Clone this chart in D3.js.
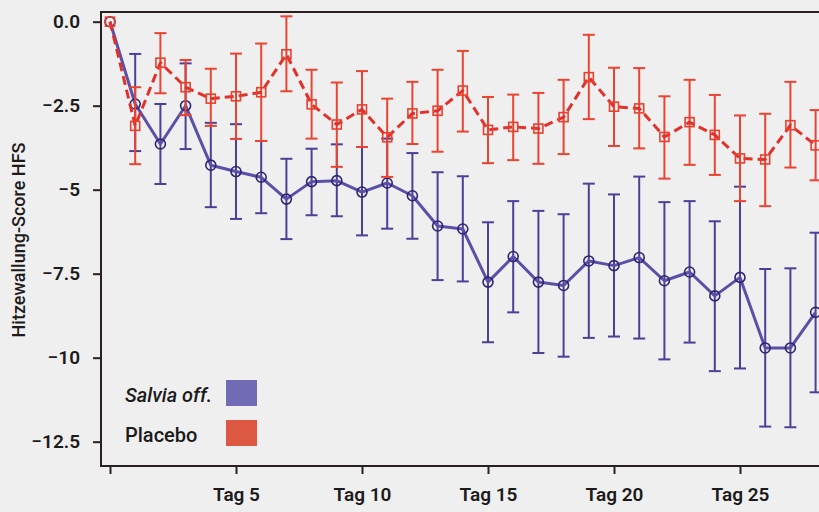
<!DOCTYPE html>
<html>
<head>
<meta charset="utf-8">
<script src="https://cdn.jsdelivr.net/npm/d3@7"></script>
<style>
  body { margin: 0; background: #efefef; }
  svg { display: block; font-family: Roboto, "Noto Sans", sans-serif; }
</style>
</head>
<body>
<svg id="chart" width="819" height="512"></svg>
<script>
// values (day 0..28)
var days = d3.range(0, 29);

var salviaMean  = [0, -2.45, -3.64, -2.5, -4.27, -4.46, -4.63, -5.28, -4.76, -4.73, -5.07, -4.80, -5.18, -6.08, -6.17, -7.75, -6.99, -7.75, -7.85, -7.12, -7.26, -7.02, -7.71, -7.45, -8.16, -7.61, -9.71, -9.71, -8.65];
var salviaUpper = [null, -0.96, -2.45, -1.24, -3.01, -3.05, -3.55, -4.08, -3.78, -3.65, -3.73, -3.48, -3.91, -4.48, -4.60, -5.97, -5.34, -5.63, -5.73, -4.82, -5.14, -4.61, -5.37, -5.34, -5.94, -4.91, -7.36, -7.34, -6.28];
var salviaLower = [null, -3.85, -4.83, -3.79, -5.52, -5.87, -5.70, -6.47, -5.76, -5.79, -6.36, -6.16, -6.46, -7.69, -7.73, -9.54, -8.65, -9.86, -9.97, -9.41, -9.37, -9.43, -10.05, -9.55, -10.40, -10.32, -12.05, -12.07, -11.03];

var placeboMean  = [0, -3.1, -1.22, -1.95, -2.29, -2.22, -2.1, -0.97, -2.46, -3.06, -2.61, -3.44, -2.73, -2.65, -2.05, -3.22, -3.13, -3.18, -2.84, -1.65, -2.53, -2.58, -3.43, -2.99, -3.37, -4.07, -4.10, -3.08, -3.68];
var placeboUpper = [null, -1.95, -0.34, -1.14, -1.4, -0.95, -0.65, 0.16, -1.43, -1.81, -1.47, -2.29, -1.79, -1.43, -0.87, -2.24, -2.17, -2.12, -1.73, -0.39, -1.37, -1.38, -2.22, -1.73, -2.18, -2.79, -2.74, -1.79, -2.63];
var placeboLower = [null, -4.24, -2.13, -2.78, -3.1, -3.49, -3.55, -2.07, -3.48, -4.32, -3.73, -4.62, -3.64, -3.87, -3.27, -4.21, -4.12, -4.23, -3.94, -2.9, -3.70, -3.77, -4.67, -4.26, -4.56, -5.34, -5.49, -4.34, -4.72];

var xTicks = [5, 10, 15, 20, 25];
var xTickLabels = ["Tag 5", "Tag 10", "Tag 15", "Tag 20", "Tag 25"];
var yTicks = [0, -2.5, -5, -7.5, -10, -12.5];
var yTickLabels = ["0.0", "\u22122.5", "\u22125", "\u22127.5", "\u221210", "\u221212.5"];

var legendNames = ["Salvia off.", "Placebo"];

var svg = d3.select("#chart");
var ink = "#1c1a1b";

var x = d3.scaleLinear().domain([0, 28]).range([110, 815.6]);
var y = d3.scaleLinear().domain([0, -12.5]).range([21.7, 441.7]);

var plotLeft = 101, plotTop = 12, plotBottom = 466;

// frame (right side runs off the picture)
svg.append("path")
    .attr("d", "M830," + plotTop + "H" + plotLeft + "V" + plotBottom + "H830")
    .attr("fill", "none")
    .attr("stroke", "#2a2020")
    .attr("stroke-width", 2);

// y axis
var yAxis = svg.append("g")
    .attr("transform", "translate(" + plotLeft + ",0)")
    .call(d3.axisLeft(y).tickValues(yTicks).tickSize(8).tickPadding(13)
        .tickFormat(function(d, i) { return yTickLabels[i]; }));
yAxis.select(".domain").remove();
yAxis.selectAll(".tick line").attr("stroke", "#2a2020").attr("stroke-width", 2);
yAxis.selectAll(".tick text")
    .attr("fill", ink)
    .attr("font-size", 19)
    .attr("font-weight", 600)
    .attr("font-family", "Roboto, sans-serif");

// x axis
var xAxis = svg.append("g")
    .attr("transform", "translate(0," + plotBottom + ")")
    .call(d3.axisBottom(x).tickValues([0].concat(xTicks)).tickSize(8).tickPadding(14)
        .tickFormat(function(d) { var i = xTicks.indexOf(d); return i < 0 ? "" : xTickLabels[i]; }));
xAxis.select(".domain").remove();
xAxis.selectAll(".tick line").attr("stroke", "#2a2020").attr("stroke-width", 2);
xAxis.selectAll(".tick text")
    .attr("fill", ink)
    .attr("font-size", 19)
    .attr("font-weight", 600)
    .attr("font-family", "Roboto, sans-serif");

// y title
svg.append("text")
    .attr("transform", "translate(25,240) rotate(-90)")
    .attr("text-anchor", "middle")
    .attr("fill", ink)
    .attr("font-size", 18)
    .attr("font-weight", 500)
    .text("Hitzewallung-Score HFS");

function drawSeries(mean, upper, lower, opts) {
    var g = svg.append("g");
    var idx = days.filter(function(d) { return upper[d] !== null; });

    // error bars
    var eb = g.selectAll(".eb").data(idx).enter().append("g")
        .attr("stroke", opts.barColor).attr("stroke-width", 2);
    eb.append("line")
        .attr("x1", function(d) { return x(d); }).attr("x2", function(d) { return x(d); })
        .attr("y1", function(d) { return y(upper[d]); }).attr("y2", function(d) { return y(lower[d]); });
    eb.append("line")
        .attr("x1", function(d) { return x(d) - 6; }).attr("x2", function(d) { return x(d) + 6; })
        .attr("y1", function(d) { return y(upper[d]); }).attr("y2", function(d) { return y(upper[d]); });
    eb.append("line")
        .attr("x1", function(d) { return x(d) - 6; }).attr("x2", function(d) { return x(d) + 6; })
        .attr("y1", function(d) { return y(lower[d]); }).attr("y2", function(d) { return y(lower[d]); });

    // line
    var line = d3.line().x(function(d) { return x(d); }).y(function(d) { return y(mean[d]); });
    g.append("path")
        .datum(days)
        .attr("fill", "none")
        .attr("stroke", opts.lineColor)
        .attr("stroke-width", 3)
        .attr("stroke-linejoin", "round")
        .attr("stroke-dasharray", opts.dash)
        .attr("d", line);

    // markers
    if (opts.marker === "circle") {
        g.selectAll(".m").data(days).enter().append("circle")
            .attr("cx", function(d) { return x(d); })
            .attr("cy", function(d) { return y(mean[d]); })
            .attr("r", 5)
            .attr("fill", "none")
            .attr("stroke", opts.markerColor)
            .attr("stroke-width", 1.6);
    } else {
        g.selectAll(".m").data(days).enter().append("rect")
            .attr("x", function(d) { return x(d) - 4.5; })
            .attr("y", function(d) { return y(mean[d]) - 4.5; })
            .attr("width", 9).attr("height", 9)
            .attr("fill", "none")
            .attr("stroke", opts.markerColor)
            .attr("stroke-width", 1.6);
    }
}

drawSeries(salviaMean, salviaUpper, salviaLower,
    { barColor: "#4c3f97", lineColor: "#5a50a8", markerColor: "#2e2572", dash: null, marker: "circle" });
drawSeries(placeboMean, placeboUpper, placeboLower,
    { barColor: "#ea4431", lineColor: "#e1312a", markerColor: "#e8402f", dash: "9,5", marker: "square" });

// legend
var legendColors = ["#716bb5", "#dc5842"];
var lg = svg.append("g");
lg.selectAll("text").data(legendNames).enter().append("text")
    .attr("x", 125)
    .attr("y", function(d, i) { return 402 + i * 40; })
    .attr("fill", ink)
    .attr("font-size", 20)
    .attr("font-weight", 500)
    .attr("font-style", function(d, i) { return i === 0 ? "italic" : "normal"; })
    .text(function(d) { return d; });
lg.selectAll("rect").data(legendColors).enter().append("rect")
    .attr("x", 226)
    .attr("y", function(d, i) { return 380 + i * 40; })
    .attr("width", 31).attr("height", 26)
    .attr("fill", function(d) { return d; });
</script>
</body>
</html>
